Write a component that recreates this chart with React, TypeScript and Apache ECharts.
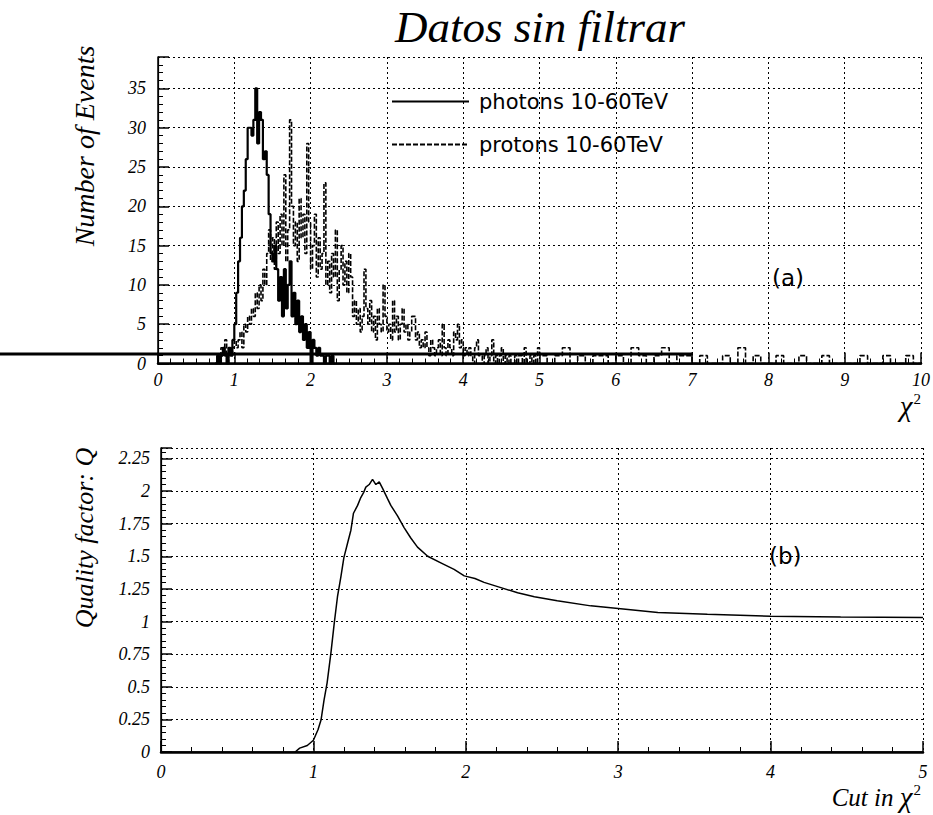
import React, { useEffect, useRef } from "react";
import * as echarts from "echarts";

// ---------- data ----------
const binWidth = 0.025;
const photonStart = 0.75;
const photonCounts = [
  0, 1, 0, 1, 2, 1, 0, 2, 1, 3,
  5, 9, 13, 16, 20, 22, 26, 30, 30, 29,
  31, 35, 28, 32, 31, 26, 27, 24, 19, 14,
  13, 15, 12, 8, 11, 6, 12, 7, 10, 13,
  6, 9, 5, 8, 4, 6, 3, 5, 2, 4,
  0, 3, 2, 1, 2, 1, 1, 0, 1, 1,
  0, 1, 0,
];

const protonStart = 0.75;
const protonCounts = [
  0, 1, 0, 2, 1, 3, 0, 2, 1, 2, 3, 2, 3, 4, 2, 5,
  4, 6, 5, 7, 6, 9, 7, 10, 8, 12, 10, 14, 17, 13, 16, 12,
  18, 14, 19, 15, 24, 13, 17, 31, 20, 15, 18, 13, 21, 16, 19, 14,
  28, 18, 12, 15, 19, 11, 16, 12, 14, 23, 10, 13, 9, 14, 11, 17,
  8, 12, 15, 10, 13, 9, 14, 11, 6, 8, 5, 7, 4, 6, 12, 7,
  5, 8, 4, 6, 3, 7, 5, 4, 10, 6, 4, 5, 3, 8, 4, 6,
  3, 5, 7, 4, 5, 3, 4, 6, 6, 3, 4, 2, 3, 2, 4, 2,
  1, 3, 2, 1, 2, 3, 1, 5, 2, 1, 3, 2, 1, 4, 3, 5,
  2, 3, 1, 2, 1, 2, 1, 0, 2, 3, 1, 1, 0, 1, 2, 0,
  1, 3, 0, 1, 0, 1, 2, 0, 1, 0, 1, 0, 0, 1, 0, 1,
  1, 0, 2, 0, 0, 1, 0, 1, 0, 2,
];

const tailStart = 5.0;
const tailWidth = 0.1;
const tailCounts = [
  1, 0, 1, 2, 0, 1, 0, 1, 1, 0,
  1, 0, 2, 1, 0, 1, 2, 0, 1, 1,
  0, 1, 0, 0, 1, 0, 2, 0, 1, 0,
  0, 1, 0, 0, 1, 0, 0, 1, 0, 0,
  0, 0, 1, 0, 0, 1, 0, 0, 1, 0,
];

const qCut = [
  0.88, 0.91, 0.96, 1.0, 1.03, 1.05, 1.07, 1.09, 1.115, 1.137, 1.158, 1.18,
  1.2, 1.224, 1.246, 1.263, 1.29, 1.311, 1.33, 1.344, 1.366, 1.388, 1.41,
  1.432, 1.454, 1.487, 1.508, 1.552, 1.595, 1.639, 1.683, 1.75, 1.836, 1.923,
  1.99, 2.06, 2.12, 2.23, 2.34, 2.45, 2.6, 2.82, 3.0, 3.26, 3.585, 4.0, 4.46, 5.0,
];
const qValue = [
  0, 0.03, 0.05, 0.09, 0.17, 0.245, 0.4, 0.53, 0.76, 0.99, 1.19, 1.34,
  1.49, 1.6, 1.7, 1.83, 1.89, 1.95, 1.99, 2.03, 2.05, 2.09, 2.05,
  2.07, 2.02, 1.94, 1.89, 1.81, 1.72, 1.64, 1.57, 1.5, 1.45, 1.4,
  1.35, 1.33, 1.3, 1.26, 1.22, 1.19, 1.16, 1.12, 1.1, 1.07, 1.055, 1.04, 1.035, 1.03,
];

const photonName = "photons 10-60TeV";
const protonName = "protons 10-60TeV";

// ---------- helpers ----------
function histPoints(start: number, width: number, counts: number[]) {
  return counts.map((c, i) => [start + i * width, c]);
}

const SERIF = "Liberation Serif";
const SANS = "DejaVu Sans";

function xAxisMain(gridIndex: number, max: number, minorSplit: number, margin: number) {
  return {
    type: "value",
    gridIndex,
    min: 0,
    max,
    interval: 1,
    axisLine: { show: true, lineStyle: { color: "#000", width: 1.5 } },
    axisTick: { show: true, inside: true, length: 11, lineStyle: { color: "#000", width: 1.5 } },
    minorTick: { show: true, splitNumber: minorSplit, length: 5, lineStyle: { color: "#000", width: 1 } },
    axisLabel: {
      color: "#000",
      fontFamily: SERIF,
      fontStyle: "italic",
      fontSize: 18,
      margin,
    },
    splitLine: { show: true, lineStyle: { color: "#000", type: [2, 3], width: 1 } },
  };
}

function frameAxisX(gridIndex: number, max: number) {
  return {
    type: "value",
    gridIndex,
    position: "top",
    min: 0,
    max,
    axisLine: { show: true, lineStyle: { color: "#000", width: 2.5 } },
    axisTick: { show: false },
    axisLabel: { show: false },
    splitLine: { show: false },
  };
}

function frameAxisY(gridIndex: number, max: number) {
  return {
    type: "value",
    gridIndex,
    position: "right",
    min: 0,
    max,
    axisLine: { show: true, lineStyle: { color: "#000", width: 1.2 } },
    axisTick: { show: false },
    axisLabel: { show: false },
    splitLine: { show: false },
  };
}

function yAxisMain(gridIndex: number, max: number, interval: number, margin: number) {
  return {
    type: "value",
    gridIndex,
    min: 0,
    max,
    interval,
    axisLine: { show: true, lineStyle: { color: "#000", width: 1.5 } },
    axisTick: { show: true, inside: true, length: 11, lineStyle: { color: "#000", width: 1.5 } },
    minorTick: { show: true, splitNumber: 5, length: 5, lineStyle: { color: "#000", width: 1 } },
    axisLabel: {
      color: "#000",
      fontFamily: SERIF,
      fontStyle: "italic",
      fontSize: 18,
      margin,
      showMaxLabel: false,
    },
    splitLine: { show: true, lineStyle: { color: "#000", type: [2, 3], width: 1 } },
  };
}

export default function App() {
  const ref = useRef<HTMLDivElement>(null);

  useEffect(() => {
    if (!ref.current) return;
    const chart = echarts.init(ref.current, null, { renderer: "svg" });

    const protonData = histPoints(protonStart, binWidth, protonCounts)
      .concat(histPoints(tailStart, tailWidth, tailCounts));
    protonData.push([tailStart + tailCounts.length * tailWidth, 0]);
    const photonData = histPoints(photonStart, binWidth, photonCounts);
    photonData.push([photonStart + photonCounts.length * binWidth, 0]);
    const qData = qCut.map((c, i) => [c, qValue[i]]);

    const chi2Rich = {
      c: { fontFamily: SERIF, fontStyle: "italic", fontSize: 29, color: "#000" },
      s: { fontFamily: SERIF, fontSize: 15, verticalAlign: "top", color: "#000", padding: [0, 0, 0, 1] },
      t: { fontFamily: SERIF, fontStyle: "italic", fontSize: 25, color: "#000" },
    };

    chart.setOption({
      animation: false,
      backgroundColor: "#fff",
      grid: [
        { left: 158, top: 57, width: 765, height: 306.5, show: false },
        { left: 161, top: 448, width: 762, height: 304, show: false },
      ],
      legend: {
        show: true,
        left: 386,
        top: 86,
        orient: "vertical",
        itemWidth: 77,
        itemHeight: 14,
        itemGap: 22,
        selectedMode: false,
        itemStyle: { color: "rgba(0,0,0,0)", borderWidth: 0, opacity: 0 },
        textStyle: { fontFamily: SANS, fontSize: 21, color: "#000", padding: [0, 0, 0, 5] },
        data: [photonName, protonName],
      },
      xAxis: [
        xAxisMain(0, 10, 6, 7),
        frameAxisX(0, 10),
        xAxisMain(1, 5, 5, 11),
        frameAxisX(1, 5),
      ],
      yAxis: [
        yAxisMain(0, 39, 5, 12),
        frameAxisY(0, 39),
        yAxisMain(1, 2.33, 0.25, 11),
        frameAxisY(1, 2.33),
      ],
      series: [
        {
          name: protonName,
          type: "line",
          xAxisIndex: 0,
          yAxisIndex: 0,
          step: "end",
          symbol: "none",
          data: protonData,
          lineStyle: { color: "#000", width: 1.6, type: [5, 2] },
          itemStyle: { color: "#000" },
          z: 3,
        },
        {
          name: photonName,
          type: "line",
          xAxisIndex: 0,
          yAxisIndex: 0,
          step: "end",
          symbol: "none",
          data: photonData,
          lineStyle: { color: "#000", width: 2.2 },
          itemStyle: { color: "#000" },
          z: 4,
        },
        {
          name: "Q",
          type: "line",
          xAxisIndex: 2,
          yAxisIndex: 2,
          symbol: "none",
          data: qData,
          lineStyle: { color: "#000", width: 1.5 },
          itemStyle: { color: "#000" },
          z: 4,
        },
      ],
      graphic: [
        {
          type: "text",
          x: 540,
          y: 27,
          style: {
            text: "Datos sin filtrar",
            fontFamily: SERIF,
            fontStyle: "italic",
            fontSize: 45,
            fill: "#000",
            align: "center",
            verticalAlign: "middle",
          },
        },
        {
          type: "text",
          x: 84,
          y: 146,
          rotation: Math.PI / 2,
          style: {
            text: "Number of Events",
            fontFamily: SERIF,
            fontStyle: "italic",
            fontSize: 28,
            fill: "#000",
            align: "center",
            verticalAlign: "middle",
          },
        },
        {
          type: "text",
          x: 84,
          y: 538,
          rotation: Math.PI / 2,
          style: {
            text: "Quality factor: Q",
            fontFamily: SERIF,
            fontStyle: "italic",
            fontSize: 26,
            fill: "#000",
            align: "center",
            verticalAlign: "middle",
          },
        },
        {
          type: "text",
          x: 921,
          y: 406,
          style: {
            text: "{c|χ}{s|2}",
            rich: chi2Rich,
            align: "right",
            verticalAlign: "middle",
          },
        },
        {
          type: "text",
          x: 921,
          y: 797,
          style: {
            text: "{t|Cut in }{c|χ}{s|2}",
            rich: chi2Rich,
            align: "right",
            verticalAlign: "middle",
          },
        },
        {
          type: "text",
          x: 772,
          y: 278,
          style: {
            text: "(a)",
            fontFamily: SANS,
            fontSize: 23,
            fill: "#000",
            align: "left",
            verticalAlign: "middle",
          },
        },
        {
          type: "text",
          x: 769,
          y: 556,
          style: {
            text: "(b)",
            fontFamily: SANS,
            fontSize: 23,
            fill: "#000",
            align: "left",
            verticalAlign: "middle",
          },
        },
        {
          type: "line",
          shape: { x1: 0, y1: 354, x2: 693, y2: 354 },
          style: { stroke: "#000", lineWidth: 3 },
          z: 10,
        },
      ],
    });

    return () => chart.dispose();
  }, []);

  return (
    <div
      ref={ref}
      style={{ position: "absolute", left: 0, top: 0, width: 933, height: 815, background: "#fff" }}
    />
  );
}
